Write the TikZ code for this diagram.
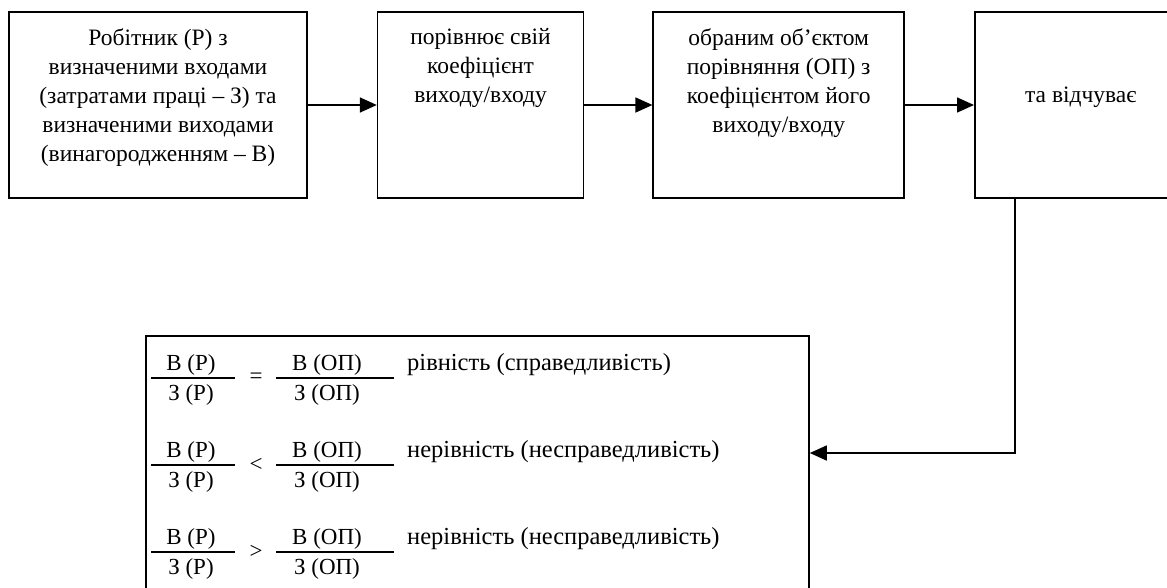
\documentclass[tikz,border=0pt]{standalone}
\usepackage{fontspec}
\setmainfont{Liberation Serif}
\usepackage{tikz}
\usetikzlibrary{arrows.meta,positioning}

\tikzset{
    blok/.style={draw, line width=1.6pt, inner sep=0pt, minimum height=186pt},
    txt/.style={align=center, inner sep=0pt, font=\fontsize{23.5}{29}\selectfont},
    frc/.style={inner sep=0pt, font=\fontsize{23}{26}\selectfont},
    lab/.style={inner sep=0pt, font=\fontsize{24.5}{28}\selectfont},
    arr/.style={line width=1.6pt, -{Triangle[length=17pt,width=15pt]}}
}

\begin{document}
\begin{tikzpicture}[x=1pt,y=-1pt]
            \useasboundingbox (0,0) rectangle (1167,587);
            \clip (0,0) rectangle (1167,587);
            \node[blok, minimum width=298pt] (b1) at (158,105) {};
            \node[blok, minimum width=206pt, right=69pt of b1] (b2) {};
            \node[blok, minimum width=251pt, right=68pt of b2] (b3) {};
            \node[blok, minimum width=212pt, right=69pt of b3] (b4) {};
            \node[txt, below=17pt of b1.north] (t1) {Робітник (Р) з\\визначеними входами\\(затратами праці – З) та\\визначеними виходами\\(винагородженням – В)};
            \node[txt, below=17pt of b2.north] (t2) {порівнює свій\\коефіцієнт\\виходу/входу};
            \node[txt, below=17pt of b3.north] (t3) {обраним об’єктом\\порівняння (ОП) з\\коефіцієнтом його\\виходу/входу};
            \node[txt, below=76pt of b4.north] (t4) {та відчуває};
            \node[blok, minimum width=663pt, minimum height=264pt] (res) at (477.5,468) {};
            \foreach \y/\rel/\txt [count=\i] in {370/=/рівність (справедливість), 457/</нерівність (несправедливість), 544/>/нерівність (несправедливість)} {
                \node[frc, anchor=base] (p\i) at (191,\y) {В (Р)};
                \node[frc, anchor=base] (z\i) at (191,\y+30) {З (Р)};
                \draw[line width=1.4pt] (151,\y+8) -- (235,\y+8);
                \node[frc] (r\i) at (256,\y+8) {\rel};
                \node[frc, anchor=base] (po\i) at (327,\y) {В (ОП)};
                \node[frc, anchor=base] (zo\i) at (327,\y+30) {З (ОП)};
                \draw[line width=1.4pt] (276,\y+8) -- (394,\y+8);
                \node[lab, anchor=base west] (l\i) at (407,\y) {\txt};
            }
            \draw[arr] (b1) -- (b2);
            \draw[arr] (b2) -- (b3);
            \draw[arr] (b3) -- (b4);
            \coordinate (turn) at (1015,453);
            \draw[arr] (b4.south -| turn) |- (res.east |- turn);
\end{tikzpicture}
\end{document}
